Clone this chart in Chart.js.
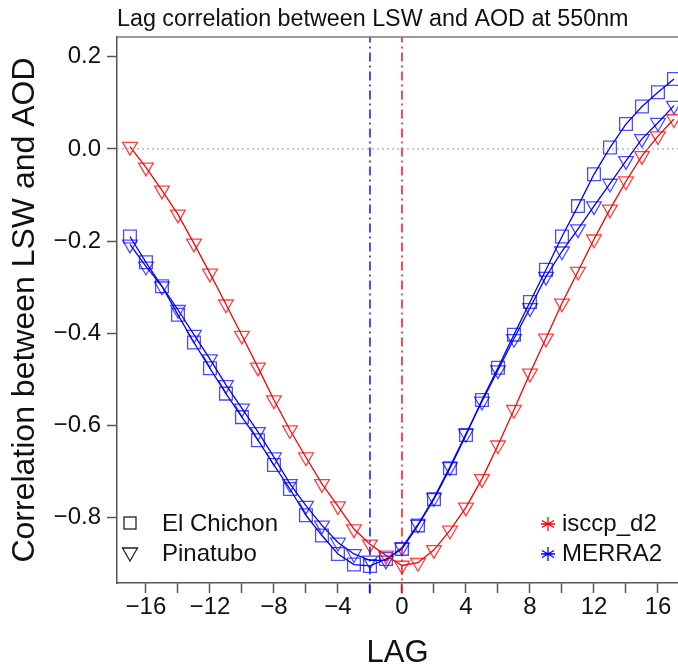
<!DOCTYPE html>
<html>
<head>
<meta charset="utf-8">
<script src="https://cdn.jsdelivr.net/npm/chart.js@4.4.1/dist/chart.umd.min.js"></script>
<style>
  html, body { margin: 0; padding: 0; background: #fff; }
  #wrap { width: 678px; height: 668px; }
</style>
</head>
<body>
<div id="wrap"><canvas id="myChart" width="678" height="668"></canvas></div>
<script>
const ctx = document.getElementById('myChart');

// lag values (x axis)
const lags = [-17, -16, -15, -14, -13, -12, -11, -10, -9, -8, -7, -6, -5, -4, -3, -2, -1,
  0, 1, 2, 3, 4, 5, 6, 7, 8, 9, 10, 11, 12, 13, 14, 15, 16, 17];

// isccp_d2, Pinatubo (red triangles)
const isccpPinatubo = [0.005, -0.04, -0.09, -0.142, -0.205, -0.27, -0.337, -0.405, -0.474,
  -0.545, -0.61, -0.669, -0.727, -0.775, -0.825, -0.858, -0.882,
  -0.904, -0.898, -0.87, -0.828, -0.778, -0.716, -0.643, -0.566, -0.487,
  -0.411, -0.335, -0.266, -0.196, -0.131, -0.07, -0.015, 0.028, 0.065];

// MERRA2, El Chichon (blue squares)
const merraChichon = [-0.19, -0.246, -0.298, -0.36, -0.42, -0.476, -0.531, -0.582, -0.632,
  -0.686, -0.738, -0.795, -0.839, -0.879, -0.902, -0.905, -0.89,
  -0.868, -0.817, -0.76, -0.693, -0.621, -0.545, -0.475, -0.403, -0.332,
  -0.262, -0.19, -0.124, -0.055, 0.003, 0.054, 0.092, 0.123, 0.152];

// MERRA2, Pinatubo (blue triangles)
const merraPinatubo = [-0.207, -0.255, -0.298, -0.349, -0.403, -0.456, -0.512, -0.563, -0.614,
  -0.669, -0.727, -0.774, -0.817, -0.854, -0.879, -0.893, -0.893,
  -0.865, -0.815, -0.757, -0.69, -0.618, -0.548, -0.48, -0.412, -0.345,
  -0.277, -0.222, -0.174, -0.124, -0.075, -0.026, 0.022, 0.057, 0.094];

// lag of the minimum for each dataset (vertical lines)
const minLagMerra = -2;
const minLagIsccp = 0;

const X_MIN = -17.81, X_MAX = 17.25;
const Y_MIN = -0.942, Y_MAX = 0.243;

const FONT = '"Liberation Sans", Arial, sans-serif';
const RED = 'rgb(255,0,0)';
const BLUE = 'rgb(0,0,255)';

function toPoints(ys) {
  return lags.map((x, i) => ({ x: x, y: ys[i] }));
}

function minus(v) {
  return String(v).replace('-', '\u2212');
}

// legends, title and top border drawn on top of the chart
const extras = {
  id: 'extras',
  afterDraw(chart) {
    const c = chart.ctx;
    const a = chart.chartArea;
    c.save();
    // top border
    c.strokeStyle = '#777';
    c.lineWidth = 1.5;
    c.beginPath();
    c.moveTo(a.left, a.top);
    c.lineTo(a.right, a.top);
    c.stroke();

    // title
    c.fillStyle = '#111';
    c.font = '23.3px ' + FONT;
    c.textBaseline = 'alphabetic';
    c.textAlign = 'left';
    c.fillText('Lag correlation between LSW and AOD at 550nm', a.left, 26);

    // left legend: volcano
    c.font = '24px ' + FONT;
    c.textBaseline = 'middle';
    c.strokeStyle = '#222';
    c.lineWidth = 1.3;
    c.strokeRect(124, 517, 12, 12);
    c.beginPath();
    c.moveTo(122.5, 548);
    c.lineTo(137.5, 548);
    c.lineTo(130, 561);
    c.closePath();
    c.stroke();
    c.fillText('El Chichon', 162, 524);
    c.fillText('Pinatubo', 162, 554);

    // right legend: dataset
    function star(x, y, col) {
      c.strokeStyle = col;
      c.lineWidth = 1.3;
      const r = 7;
      c.beginPath();
      for (let k = 0; k < 3; k++) {
        const ang = k * Math.PI / 3 + Math.PI / 2;
        c.moveTo(x + r * Math.cos(ang), y + r * Math.sin(ang));
        c.lineTo(x - r * Math.cos(ang), y - r * Math.sin(ang));
      }
      c.moveTo(x - r, y);
      c.lineTo(x + r, y);
      c.stroke();
    }
    star(548, 524, RED);
    star(548, 554, BLUE);
    c.fillStyle = '#111';
    c.fillText('isccp_d2', 562, 524);
    c.fillText('MERRA2', 562, 554);
    c.restore();
  }
};

const myChart = new Chart(ctx, {
  type: 'line',
  data: {
    datasets: [
      {
        label: 'zero',
        data: [{ x: X_MIN, y: 0 }, { x: X_MAX, y: 0 }],
        borderColor: '#aaa',
        borderWidth: 1.3,
        borderDash: [2, 3],
        pointRadius: 0
      },
      {
        label: 'isccp_d2 min',
        data: [{ x: minLagIsccp, y: -0.965 }, { x: minLagIsccp, y: Y_MAX }],
        borderColor: RED,
        borderWidth: 1.4,
        borderDash: [9, 4, 2, 4],
        pointRadius: 0,
        clip: false
      },
      {
        label: 'MERRA2 min',
        data: [{ x: minLagMerra, y: -0.965 }, { x: minLagMerra, y: Y_MAX }],
        borderColor: BLUE,
        borderWidth: 1.4,
        borderDash: [9, 4, 2, 4],
        pointRadius: 0,
        clip: false
      },
      {
        label: 'isccp_d2 Pinatubo',
        data: toPoints(isccpPinatubo),
        borderColor: RED,
        borderWidth: 1.3,
        pointStyle: 'triangle',
        rotation: 180,
        pointRadius: 8.5,
        pointBorderWidth: 1.3,
        pointBorderColor: 'rgba(255,0,0,0.75)',
        pointBackgroundColor: 'rgba(0,0,0,0)'
      },
      {
        label: 'MERRA2 Pinatubo',
        data: toPoints(merraPinatubo),
        borderColor: BLUE,
        borderWidth: 1.3,
        pointStyle: 'triangle',
        rotation: 180,
        pointRadius: 8.5,
        pointBorderWidth: 1.3,
        pointBorderColor: 'rgba(0,0,255,0.7)',
        pointBackgroundColor: 'rgba(0,0,0,0)'
      },
      {
        label: 'MERRA2 El Chichon',
        data: toPoints(merraChichon),
        borderColor: BLUE,
        borderWidth: 1.3,
        pointStyle: 'rect',
        pointRadius: 9,
        pointBorderWidth: 1.3,
        pointBorderColor: 'rgba(0,0,255,0.7)',
        pointBackgroundColor: 'rgba(0,0,0,0)'
      }
    ]
  },
  options: {
    responsive: false,
    animation: false,
    devicePixelRatio: 1,
    layout: { autoPadding: false, padding: { top: 37, right: 0, left: 0, bottom: 0 } },
    plugins: {
      legend: { display: false },
      tooltip: { enabled: false }
    },
    scales: {
      x: {
        type: 'linear',
        min: X_MIN,
        max: X_MAX,
        afterFit(scale) {
          scale.height = 85;
          scale.paddingRight = 0;
          scale.paddingLeft = 0;
        },
        border: { display: true, color: '#555', width: 1.5 },
        grid: { drawOnChartArea: false, drawTicks: true, tickLength: 10, tickColor: '#555', tickWidth: 1.5 },
        ticks: {
          stepSize: 2,
          includeBounds: false,
          autoSkip: false,
          maxRotation: 0,
          padding: 0,
          color: '#111',
          font: { family: FONT, size: 24 },
          callback: (v) => (v % 4 === 0 ? minus(v) : '')
        },
        title: {
          display: true,
          text: 'LAG',
          color: '#111',
          font: { family: FONT, size: 31, lineHeight: 0.95 },
          padding: { top: 0, bottom: 0 }
        }
      },
      y: {
        type: 'linear',
        min: Y_MIN,
        max: Y_MAX,
        afterFit(scale) { scale.width = 117; },
        border: { display: true, color: '#555', width: 1.5 },
        grid: { drawOnChartArea: false, drawTicks: true, tickLength: 10, tickColor: '#555', tickWidth: 1.5 },
        ticks: {
          stepSize: 0.2,
          includeBounds: false,
          padding: 6,
          color: '#111',
          font: { family: FONT, size: 24 },
          callback: (v) => minus(v.toFixed(1))
        },
        title: {
          display: true,
          text: 'Correlation between LSW and AOD',
          color: '#111',
          font: { family: FONT, size: 32 },
          padding: { top: 6, bottom: 0 }
        }
      }
    }
  },
  plugins: [extras]
});
</script>
</body>
</html>
